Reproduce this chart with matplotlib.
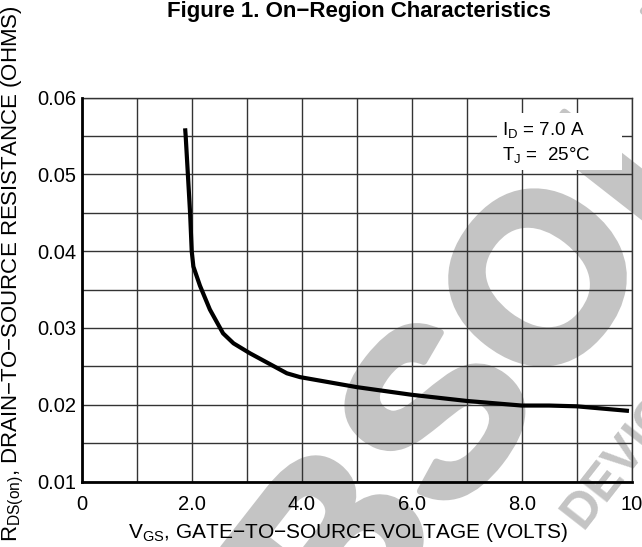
import matplotlib
matplotlib.use('Agg')
import matplotlib.pyplot as plt
import matplotlib.patheffects as pe
from matplotlib.patches import Rectangle

plt.rcParams['font.family'] = ['Liberation Sans', 'DejaVu Sans']
plt.rcParams['mathtext.fontset'] = 'custom'
plt.rcParams['mathtext.rm'] = 'Liberation Sans'

# datos (VGS en volts, RDS(on) en ohms)
vgs = [1.88, 1.89, 1.93, 1.97, 2.00, 2.03, 2.15, 2.33, 2.57, 2.76, 3.06,
       3.73, 3.97, 5.0, 6.0, 7.0, 8.0, 8.5, 9.0, 9.95]
rds = [0.0560, 0.0550, 0.0500, 0.0450, 0.0400, 0.0380, 0.0355, 0.0324,
       0.0293, 0.0280, 0.0267, 0.0241, 0.0236, 0.0223, 0.0213, 0.0205,
       0.0199, 0.0199, 0.0198, 0.0192]

x_ticks = [0, 2, 4, 6, 8, 10]
x_tick_labels = ['0', '2.0', '4.0', '6.0', '8.0', '10']
y_ticks = [0.01, 0.02, 0.03, 0.04, 0.05, 0.06]
y_tick_labels = ['0.01', '0.02', '0.03', '0.04', '0.05', '0.06']

fig = plt.figure(figsize=(6.42, 5.47), dpi=100)
ax = fig.add_axes([0.1273, 0.1196, 0.8567, 0.702])
ax.set_facecolor('none')

W, H = 642.0, 547.0

# marca de agua gris, letra por letra (centro de la 4a letra y paso en pixeles)
gris = '#c4c4c4'
grueso = [pe.withStroke(linewidth=5, foreground=gris)]
palabra = 'OBSOLETE'
cx, cy = 554.0, 290.0
dx, dy = 104.0, -133.0
for i, letra in enumerate(palabra):
    px = cx + (i - 3) * dx
    py = cy + (i - 3) * dy
    fig.text(px / W, 1 - py / H, letra, fontsize=170, fontweight='bold',
             color=gris, rotation=52, rotation_mode='anchor',
             ha='center', va='center', zorder=-1, path_effects=grueso)

fig.text(583 / W, 1 - 530 / H, 'DEVICE', fontsize=36, fontweight='bold',
         color=gris, rotation=52, rotation_mode='anchor',
         ha='left', va='baseline', zorder=-1)

# cuadricula
for xv in range(0, 11):
    ax.axvline(xv, color='#333333', linewidth=1.0, zorder=1)
for i in range(11):
    ax.axhline(0.01 + i * 0.005, color='#333333', linewidth=1.0, zorder=1)

# curva
ax.plot(vgs, rds, color='black', linewidth=3.0, zorder=4,
        solid_capstyle='butt')

# recuadro con condiciones
ax.add_patch(Rectangle((7.55, 0.0506), 2.27, 0.0074, facecolor='white',
                       edgecolor='none', zorder=2))
ax.text(7.64, 0.0557, r'I$_{\mathregular{D}}$ = 7.0 A', fontsize=13.5,
        va='center', ha='left', zorder=3)
ax.text(7.64, 0.0524, r'T$_{\mathregular{J}}$ =  25$\degree$C', fontsize=13.5,
        va='center', ha='left', zorder=3)

ax.set_xlim(0, 10)
ax.set_ylim(0.01, 0.06)
ax.set_xticks(x_ticks)
ax.set_xticklabels(x_tick_labels)
ax.set_yticks(y_ticks)
ax.set_yticklabels(y_tick_labels)
ax.tick_params(length=0, labelsize=14.5)
ax.tick_params(axis='x', pad=10)
ax.tick_params(axis='y', pad=4)

for s in ['top', 'right']:
    ax.spines[s].set_linewidth(1.0)
    ax.spines[s].set_color('#333333')
for s in ['left', 'bottom']:
    ax.spines[s].set_linewidth(2.0)
ax.spines['left'].set_zorder(5)
ax.spines['bottom'].set_zorder(5)

# titulos de ejes
fig.text(348 / W, 1 - 532 / H,
         r'V$_{\mathregular{GS}}$, GATE−TO−SOURCE VOLTAGE (VOLTS)',
         fontsize=15, ha='center', va='center')
fig.text(13 / W, 1 - 274 / H,
         r'R$_{\mathregular{DS(on)}}$, DRAIN−TO−SOURCE RESISTANCE (OHMS)',
         fontsize=16, ha='center', va='center', rotation=90)

fig.text(359 / W, 1 - 12 / H, 'Figure 1. On−Region Characteristics',
         fontsize=16, fontweight='bold', ha='center', va='center')

fig.savefig('out.png', dpi=100)
